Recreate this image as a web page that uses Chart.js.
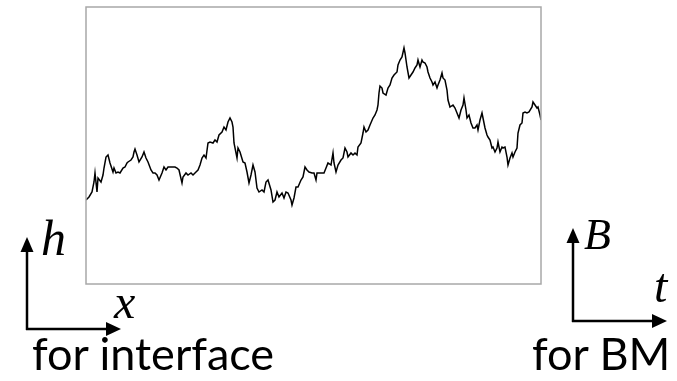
<!DOCTYPE html>
<html>
<head>
<meta charset="utf-8">
<script src="https://cdn.jsdelivr.net/npm/chart.js@4/dist/chart.umd.min.js"></script>
<style>
  html, body { margin: 0; padding: 0; background: #fff; }
  #wrap { position: relative; width: 677px; height: 381px; overflow: hidden; }
  #c { position: absolute; left: 0; top: 0; }
  #ann { position: absolute; left: 0; top: 0; }
  .math { font-family: "Liberation Serif", "DejaVu Serif", serif; font-style: italic; }
  .cap { font-family: Lato, "Open Sans", sans-serif; }
</style>
</head>
<body>
<div id="wrap">
  <canvas id="c" width="677" height="381"></canvas>
  <svg id="ann" width="677" height="381" viewBox="0 0 677 381">
    <!-- axes sketch for the interface picture and for the Brownian motion picture -->
    <g stroke="#000" stroke-width="2.5" fill="none">
      <line x1="27" y1="330" x2="27" y2="248"/>
      <line x1="26" y1="329" x2="108" y2="329"/>
      <line x1="573" y1="322" x2="573" y2="240"/>
      <line x1="572" y1="321" x2="655" y2="321"/>
    </g>
    <g fill="#000">
      <polygon points="27,237 20.5,252 33.5,252"/>
      <polygon points="121,329 106,322 106,336"/>
      <polygon points="573,228 566.5,243 579.5,243"/>
      <polygon points="667,321 652,314 652,328"/>
    </g>
    <text class="math" x="41" y="255" font-size="50">h</text>
    <text class="math" x="114" y="318" font-size="48">x</text>
    <text class="math" x="584" y="249" font-size="44">B</text>
    <text class="math" x="654" y="302" font-size="48">t</text>
    <text class="cap" x="32" y="370" font-size="45">for interface</text>
    <text class="cap" x="532" y="370" font-size="45">for BM</text>
  </svg>
</div>
<script>
// Sample path: time steps and path values
const timeSteps = [
  0, 3, 6, 8, 9, 11, 12, 15, 17, 18, 20, 22, 24, 27, 28, 30, 32, 34, 37, 39,
  41, 42, 45, 47, 48, 49, 51, 53, 56, 58, 60, 62, 65, 67, 69, 71, 73, 76, 78, 80,
  82, 86, 89, 91, 93, 96, 97, 100, 102, 105, 107, 110, 112, 114, 116, 118, 120, 122, 124, 127,
  129, 131, 133, 136, 138, 140, 142, 144, 146, 147, 148, 151, 152, 154, 157, 159, 161, 163, 165, 167,
  169, 171, 173, 176, 178, 180, 182, 185, 187, 189, 191, 193, 196, 198, 200, 202, 205, 206, 208, 210,
  212, 215, 217, 219, 221, 223, 226, 228, 230, 231, 233, 236, 238, 240, 242, 245, 247, 248, 250, 252,
  255, 257, 259, 261, 262, 265, 267, 269, 271, 272, 275, 277, 278, 280, 282, 284, 287, 289, 291, 292,
  293, 294, 296, 297, 300, 302, 304, 306, 308, 311, 312, 314, 316, 318, 319, 321, 323, 325, 327, 329,
  331, 332, 334, 336, 337, 339, 341, 342, 344, 346, 347, 349, 351, 352, 354, 356, 357, 359, 361, 362,
  364, 367, 369, 371, 373, 375, 377, 378, 380, 381, 383, 385, 387, 389, 391, 392, 394, 396, 397, 399,
  401, 402, 404, 406, 407, 409, 411, 412, 414, 416, 417, 419, 421, 422, 424, 426, 427, 429, 431, 432,
  434, 436, 437, 439, 441, 443, 446, 447, 449, 451, 452, 454, 455
];
const pathValues = [
  0, 3, 8, 18, 27, 8, 22, 18, 25, 32, 43, 45, 37, 28, 32, 27, 28, 27, 32, 33,
  37, 38, 40, 43, 48, 51, 45, 38, 43, 48, 42, 38, 30, 27, 27, 25, 20, 27, 33, 30,
  33, 33, 33, 32, 30, 17, 23, 27, 25, 27, 25, 28, 30, 35, 42, 45, 42, 57, 58, 57,
  60, 58, 65, 68, 73, 70, 78, 82, 78, 73, 57, 42, 52, 48, 38, 37, 28, 17, 25, 35,
  28, 12, 8, 10, 8, 18, 20, 10, -2, 0, 8, 3, 7, 2, 8, 7, 0, -5, 2, 13,
  13, 20, 23, 33, 30, 28, 27, 27, 20, 27, 27, 27, 27, 32, 37, 35, 47, 37, 28, 35,
  40, 42, 52, 48, 43, 47, 45, 47, 45, 53, 57, 67, 73, 68, 70, 75, 82, 85, 90, 95,
  107, 114, 112, 107, 105, 112, 115, 122, 125, 128, 135, 140, 143, 152, 147, 133, 122, 125, 128, 132,
  135, 140, 133, 140, 138, 137, 133, 128, 122, 118, 115, 118, 112, 115, 120, 127, 122, 120, 110, 100,
  93, 95, 92, 87, 82, 90, 95, 102, 90, 82, 85, 77, 72, 72, 75, 70, 80, 87, 82, 72,
  65, 63, 60, 52, 53, 48, 52, 58, 48, 53, 52, 53, 43, 35, 42, 47, 43, 48, 52, 67,
  75, 77, 87, 88, 87, 88, 93, 98, 95, 92, 93, 85, 80
];

const points = timeSteps.map((t, i) => ({ x: t, y: pathValues[i] }));

// Light grey frame around the plotting area
const frame = {
  id: 'frame',
  afterDraw(chart) {
    const { ctx, chartArea: a } = chart;
    ctx.save();
    ctx.strokeStyle = '#a8a8a8';
    ctx.lineWidth = 1.5;
    ctx.strokeRect(a.left, a.top, a.right - a.left, a.bottom - a.top);
    ctx.restore();
  }
};

new Chart(document.getElementById('c'), {
  type: 'line',
  data: {
    datasets: [{
      data: points,
      borderColor: '#000',
      borderWidth: 1.5,
      pointRadius: 0,
      tension: 0,
      fill: false
    }]
  },
  options: {
    responsive: false,
    animation: false,
    layout: { padding: { left: 86, top: 7, right: 136, bottom: 97 } },
    plugins: { legend: { display: false }, tooltip: { enabled: false } },
    scales: {
      x: { type: 'linear', min: 0, max: 455, display: false },
      y: { type: 'linear', min: -84, max: 193, display: false }
    }
  },
  plugins: [frame]
});
</script>
</body>
</html>
